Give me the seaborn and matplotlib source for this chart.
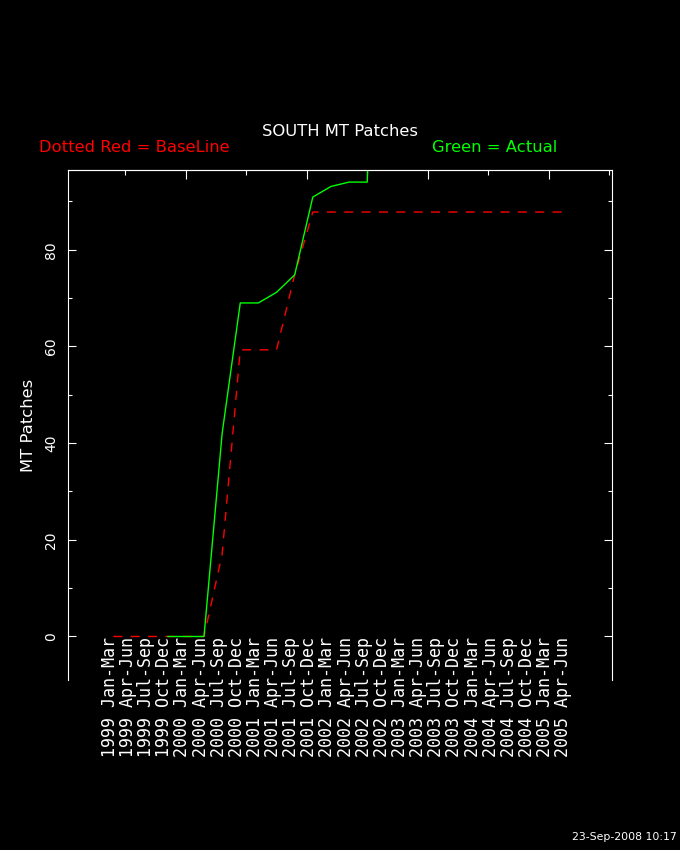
import matplotlib
matplotlib.use("Agg")
import matplotlib.pyplot as plt
import numpy as np
import pandas as pd
import seaborn as sns
from matplotlib.ticker import MultipleLocator
from matplotlib.transforms import ScaledTranslation

# quarter labels along the bottom
QUARTERS = [
    "1999 Jan-Mar", "1999 Apr-Jun", "1999 Jul-Sep", "1999 Oct-Dec",
    "2000 Jan-Mar", "2000 Apr-Jun", "2000 Jul-Sep", "2000 Oct-Dec",
    "2001 Jan-Mar", "2001 Apr-Jun", "2001 Jul-Sep", "2001 Oct-Dec",
    "2002 Jan-Mar", "2002 Apr-Jun", "2002 Jul-Sep", "2002 Oct-Dec",
    "2003 Jan-Mar", "2003 Apr-Jun", "2003 Jul-Sep", "2003 Oct-Dec",
    "2004 Jan-Mar", "2004 Apr-Jun", "2004 Jul-Sep", "2004 Oct-Dec",
    "2005 Jan-Mar", "2005 Apr-Jun",
]

# baseline (dotted red), one value per quarter
BASELINE = [0, 0, 0, 0, 0, 0, 17, 59.3, 59.3, 59.3, 74.8, 87.8,
            87.8, 87.8, 87.8, 87.8, 87.8, 87.8, 87.8, 87.8, 87.8,
            87.8, 87.8, 87.8, 87.8, 87.8]

# actual (green), starts at 1999 Oct-Dec; last point runs off the top
ACTUAL_START = 3
ACTUAL = [0, 0, 0, 42, 69, 69, 71.2, 74.8, 90.9, 93.1, 94, 94, 200]

YLIM = (-9, 96.5)

sns.set_style("dark")
plt.rcParams["font.family"] = ["DejaVu Sans"]

base_df = pd.DataFrame({"quarter": np.arange(len(BASELINE)), "value": BASELINE})
act_df = pd.DataFrame({
    "quarter": np.arange(ACTUAL_START, ACTUAL_START + len(ACTUAL)),
    "value": ACTUAL,
})

fig = plt.figure(figsize=(6.8, 8.5), dpi=100, facecolor="black")
ax = fig.add_axes([0.1, 0.2, 0.8, 0.6])
ax.set_facecolor("black")

sns.lineplot(data=base_df, x="quarter", y="value", ax=ax, color="#ff0000",
             lw=1.0, linestyle=(0, (6.5, 6)), estimator=None)
sns.lineplot(data=act_df, x="quarter", y="value", ax=ax, color="#00ff00",
             lw=1.0, estimator=None)

ax.set_xlim(-2.5, 27.5)
ax.set_ylim(*YLIM)
ax.grid(False)
ax.set_xlabel("")

# bottom: quarter labels hanging just under the zero line
ax.set_xticks(np.arange(len(QUARTERS)))
ax.set_xticklabels(QUARTERS, rotation=90, family="DejaVu Sans Mono",
                   fontsize=12, color="white")
ax.tick_params(axis="x", bottom=True, length=0, pad=-31)
shift = ScaledTranslation(-2.5 / 72, 0, fig.dpi_scale_trans)
for lbl in ax.get_xticklabels():
    lbl.set_transform(lbl.get_transform() + shift)

# y axis
ax.yaxis.set_major_locator(MultipleLocator(20))
ax.yaxis.set_minor_locator(MultipleLocator(10))
ax.tick_params(axis="y", which="both", direction="in", left=True, right=True,
               colors="white", width=0.8)
ax.tick_params(axis="y", which="major", length=5.8, labelsize=10, pad=7)
ax.tick_params(axis="y", which="minor", length=2.9)
for lbl in ax.get_yticklabels():
    lbl.set_rotation(90)
    lbl.set_va("center")
ax.set_ylabel("MT Patches", color="white", fontsize=11.75)
ax.yaxis.set_label_coords(-0.058, 0.5)

for side in ["left", "right", "top"]:
    ax.spines[side].set_color("white")
    ax.spines[side].set_linewidth(0.8)
ax.spines["bottom"].set_visible(False)

# top: unlabelled month ticks
sec = ax.secondary_xaxis("top", functions=(lambda q: 3 * q + 8, lambda m: (m - 8) / 3))
sec.xaxis.set_major_locator(MultipleLocator(20))
sec.xaxis.set_minor_locator(MultipleLocator(10))
sec.tick_params(which="both", direction="in", colors="white", width=0.8, labeltop=False)
sec.tick_params(which="major", length=6.2)
sec.tick_params(which="minor", length=3.4)
sec.spines["top"].set_color("white")
sec.spines["top"].set_linewidth(0.8)

fig.text(0.5, 1 - 131 / 850, "SOUTH MT Patches", color="white",
         ha="center", va="center", fontsize=11.75)
fig.text(39 / 680, 1 - 148 / 850, "Dotted Red = BaseLine", color="#ff0000",
         ha="left", va="center", fontsize=11.75)
fig.text(432 / 680, 1 - 148 / 850, "Green = Actual", color="#00ff00",
         ha="left", va="center", fontsize=11.75)
fig.text(677 / 680, 1 - 837 / 850, "23-Sep-2008 10:17", color="white",
         ha="right", va="center", fontsize=7.8)

fig.savefig("out.png", dpi=100, facecolor="black")
plt.close(fig)
